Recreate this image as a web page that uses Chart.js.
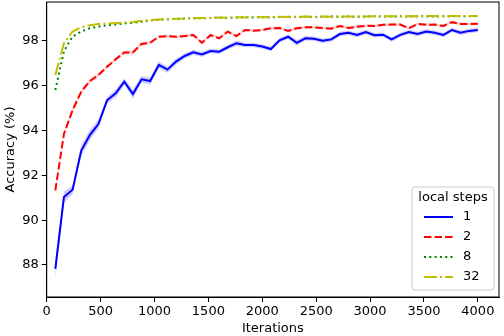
<!DOCTYPE html>
<html>
<head>
<meta charset="utf-8">
<script src="https://cdn.jsdelivr.net/npm/chart.js@4/dist/chart.umd.min.js"></script>
<style>
  html, body { margin: 0; padding: 0; background: #fff; }
  #holder { width: 504px; height: 336px; }
</style>
</head>
<body>
<div id="holder"><canvas id="myChart" width="504" height="336"></canvas></div>
<script>
// iterations (x values)
var iterations = [80,160,240,320,400,480,560,640,720,800,880,960,1040,1120,1200,1280,1360,1440,1520,1600,
  1680,1760,1840,1920,2000,2080,2160,2240,2320,2400,2480,2560,2640,2720,2800,2880,2960,3040,3120,3200,
  3280,3360,3440,3520,3600,3680,3760,3840,3920,4000];

var steps1 = [87.83,91.03,91.36,93.10,93.80,94.29,95.35,95.66,96.18,95.63,96.29,96.21,96.93,96.72,97.08,97.33,97.49,97.40,97.55,97.52,
  97.72,97.90,97.82,97.82,97.75,97.64,98.03,98.19,97.92,98.12,98.10,98.01,98.07,98.31,98.37,98.27,98.40,98.26,98.28,98.07,
  98.27,98.40,98.31,98.42,98.37,98.27,98.49,98.37,98.45,98.49];
var steps1Spread = [0.45,0.25,0.20,0.25,0.22,0.20,0.15,0.18,0.15,0.20,0.15,0.15,0.15,0.14,0.14,0.12,0.12,0.12,0.10,0.10,
  0.10,0.12,0.10,0.10,0.10,0.10,0.10,0.10,0.12,0.10,0.10,0.10,0.10,0.10,0.10,0.10,0.10,0.10,0.10,0.10,
  0.10,0.10,0.10,0.10,0.10,0.10,0.10,0.10,0.10,0.10];

var steps2 = [91.33,93.85,94.91,95.73,96.21,96.48,96.85,97.18,97.49,97.49,97.87,97.92,98.19,98.22,98.19,98.22,98.27,97.92,98.26,98.12,
  98.42,98.22,98.49,98.46,98.49,98.57,98.58,98.45,98.57,98.61,98.61,98.58,98.55,98.67,98.58,98.64,98.68,98.67,98.72,98.73,
  98.73,98.57,98.76,98.72,98.73,98.67,98.84,98.76,98.76,98.77];
var steps2Spread = [0.15,0.12,0.12,0.10,0.10,0.10,0.08,0.08,0.08,0.08,0.08,0.08,0.07,0.07,0.07,0.07,0.07,0.07,0.07,0.07,
  0.07,0.07,0.06,0.06,0.06,0.06,0.06,0.06,0.06,0.06,0.06,0.06,0.06,0.06,0.06,0.06,0.06,0.06,0.06,0.06,
  0.06,0.06,0.06,0.06,0.06,0.06,0.06,0.06,0.06,0.06];

var steps8 = [95.81,97.55,98.20,98.42,98.57,98.64,98.70,98.74,98.79,98.81,98.86,98.92,98.95,98.97,98.98,99.00,99.02,99.01,99.03,99.04,
  99.03,99.05,99.06,99.05,99.06,99.05,99.07,99.08,99.07,99.08,99.07,99.08,99.09,99.08,99.09,99.08,99.09,99.10,99.09,99.09,
  99.10,99.09,99.10,99.10,99.09,99.10,99.11,99.10,99.10,99.11];

var steps32 = [96.48,97.90,98.42,98.61,98.70,98.76,98.78,98.80,98.82,98.85,98.90,98.93,98.96,98.97,98.99,99.00,99.02,99.03,99.03,99.05,
  99.04,99.06,99.05,99.07,99.06,99.07,99.08,99.07,99.08,99.09,99.08,99.09,99.08,99.10,99.09,99.10,99.09,99.10,99.11,99.10,
  99.10,99.11,99.10,99.11,99.11,99.10,99.11,99.12,99.11,99.11];

var xTicks = [0,500,1000,1500,2000,2500,3000,3500,4000];
var yTicks = [88,90,92,94,96,98];

var FONT = '"DejaVu Sans", sans-serif';

function pts(vals, off, sign) {
  return iterations.map(function (it, i) {
    var d = off ? off[i] * sign : 0;
    return { x: it, y: vals[i] + d };
  });
}

function band(vals, spread, color, order) {
  return [
    { label: '_lo', data: pts(vals, spread, -1), borderWidth: 0, pointRadius: 0, fill: false, order: order, isBand: true },
    { label: '_hi', data: pts(vals, spread, 1), borderWidth: 0, pointRadius: 0, backgroundColor: color, fill: '-1', order: order, isBand: true }
  ];
}

var frameAndLegend = {
  id: 'frameAndLegend',
  afterDraw: function (chart) {
    var ctx = chart.ctx, a = chart.chartArea;
    ctx.save();
    ctx.strokeStyle = '#000';
    ctx.lineWidth = 1;
    ctx.strokeRect(a.left, a.top, a.right - a.left, a.bottom - a.top);

    // legend box
    var w = 82, h = 103;
    var bx = a.right - 5 - w, by = a.bottom - 7 - h;
    ctx.beginPath();
    ctx.roundRect(bx, by, w, h, 3);
    ctx.fillStyle = 'rgba(255,255,255,0.8)';
    ctx.fill();
    ctx.strokeStyle = '#cccccc';
    ctx.stroke();

    ctx.fillStyle = '#000';
    ctx.font = '13px ' + FONT;
    ctx.textAlign = 'center';
    ctx.textBaseline = 'middle';
    ctx.fillText('local steps', bx + w / 2, by + 10.5);

    var items = chart.data.datasets.filter(function (d) { return !d.isBand; });
    ctx.textAlign = 'left';
    items.forEach(function (d, i) {
      var y = by + 30 + i * 20;
      ctx.beginPath();
      ctx.setLineDash(d.borderDash || []);
      ctx.strokeStyle = d.borderColor;
      ctx.lineWidth = d.borderWidth;
      ctx.moveTo(bx + 12, y);
      ctx.lineTo(bx + 41, y);
      ctx.stroke();
      ctx.setLineDash([]);
      ctx.fillText(d.label, bx + 51, y);
    });
    ctx.restore();
  }
};

var ctx = document.getElementById('myChart').getContext('2d');

var datasets = []
  .concat(band(steps1, steps1Spread, 'rgba(0,0,255,0.2)', 10))
  .concat(band(steps2, steps2Spread, 'rgba(255,0,0,0.18)', 9))
  .concat([
    { label: '1', data: pts(steps1), borderColor: '#0000ff', borderWidth: 2, pointRadius: 0, fill: false, order: 4 },
    { label: '2', data: pts(steps2), borderColor: '#ff0000', borderWidth: 2, borderDash: [7.4, 3.2], pointRadius: 0, fill: false, order: 3 },
    { label: '8', data: pts(steps8), borderColor: '#008000', borderWidth: 2, borderDash: [2, 3.3], pointRadius: 0, fill: false, order: 2 },
    { label: '32', data: pts(steps32), borderColor: '#bfbf00', borderWidth: 2, borderDash: [12.8, 3.2, 2, 3.2], pointRadius: 0, fill: false, order: 1 }
  ]);

function plain(v) { return String(v); }

new Chart(ctx, {
  type: 'line',
  data: { datasets: datasets },
  options: {
    responsive: false,
    animation: false,
    devicePixelRatio: 1,
    layout: { autoPadding: false, padding: { top: 2, right: 5, left: 0, bottom: 0 } },
    plugins: {
      legend: { display: false },
      tooltip: { enabled: false }
    },
    scales: {
      x: {
        type: 'linear',
        min: 0,
        max: 4196,
        afterBuildTicks: function (s) { s.ticks = xTicks.map(function (v) { return { value: v }; }); },
        afterFit: function (s) { s.height = 39; s.paddingLeft = 0; s.paddingRight = 0; },
        ticks: { font: { family: FONT, size: 13 }, color: '#000', maxRotation: 0, autoSkip: false, padding: 2, callback: plain },
        grid: { drawOnChartArea: false, drawTicks: true, tickLength: 5, tickColor: '#000', tickWidth: 1 },
        border: { color: '#000', width: 1 },
        title: { display: true, text: 'Iterations', font: { family: FONT, size: 13 }, color: '#000', padding: { top: 0, bottom: 0 } }
      },
      y: {
        min: 86.57,
        max: 99.74,
        afterBuildTicks: function (s) { s.ticks = yTicks.map(function (v) { return { value: v }; }); },
        afterFit: function (s) { s.width = 46.7; s.paddingTop = 0; s.paddingBottom = 0; },
        ticks: { font: { family: FONT, size: 13 }, color: '#000', padding: 3, callback: plain },
        grid: { drawOnChartArea: false, drawTicks: true, tickLength: 5, tickColor: '#000', tickWidth: 1 },
        border: { color: '#000', width: 1 },
        title: { display: true, text: 'Accuracy (%)', font: { family: FONT, size: 13 }, color: '#000', padding: { top: 3, bottom: 0 } }
      }
    }
  },
  plugins: [frameAndLegend]
});
</script>
</body>
</html>
